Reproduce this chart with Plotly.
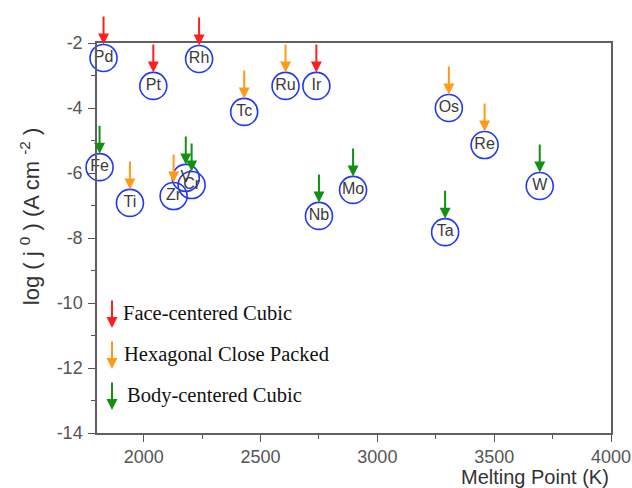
import plotly.graph_objects as go

# Data
elements = ["Pd", "Pt", "Rh", "Ir", "Tc", "Ru", "Os", "Re", "Ti", "Zr",
            "Fe", "V", "Cr", "Nb", "Mo", "Ta", "W"]
melting_point = [1828, 2041, 2237, 2739, 2430, 2607, 3306, 3459, 1941, 2128,
                 1811, 2180, 2205, 2750, 2896, 3290, 3695]
log_j0 = [-2.46, -3.32, -2.49, -3.32, -4.12, -3.32, -4.00, -5.14, -6.92, -6.71,
          -5.82, -6.15, -6.37, -7.32, -6.52, -7.82, -6.40]
structure = ["FCC", "FCC", "FCC", "FCC", "HCP", "HCP", "HCP", "HCP", "HCP", "HCP",
             "BCC", "BCC", "BCC", "BCC", "BCC", "BCC", "BCC"]

structure_names = ["FCC", "HCP", "BCC"]
structure_labels = ["Face-centered Cubic", "Hexagonal Close Packed", "Body-centered Cubic"]
structure_colors = {"FCC": "#ff1f1f", "HCP": "#ff9a1a", "BCC": "#139013"}

x_ticks = [2000, 2500, 3000, 3500, 4000]
y_ticks = [-2, -4, -6, -8, -10, -12, -14]

fig = go.Figure()
fig.add_trace(go.Scatter(
    x=melting_point, y=log_j0, mode="markers+text", text=elements,
    textposition="middle center",
    textfont=dict(family="Liberation Sans, Arial", size=16, color="#3a3a3a"),
    marker=dict(size=27, color="rgba(0,0,0,0)", line=dict(color="#2238f5", width=1.6)),
    cliponaxis=False, showlegend=False, hoverinfo="skip"))

annotations = []
# arrows pointing at each element
for xv, yv, s in zip(melting_point, log_j0, structure):
    annotations.append(dict(
        x=xv, y=yv, xref="x", yref="y", text="", showarrow=True,
        ax=0, ay=-43, standoff=13.5, arrowhead=2, arrowsize=1.1, arrowwidth=2,
        arrowcolor=structure_colors[s]))

# legend
leg_tip = [0.269, 0.164, 0.059]
leg_text_x = [0.0467, 0.0486, 0.0545]
for i, (s, lab) in enumerate(zip(structure_names, structure_labels)):
    annotations.append(dict(
        x=0.0292, y=leg_tip[i], xref="paper", yref="paper", text="", showarrow=True,
        ax=0, ay=-29, standoff=0, arrowhead=2, arrowsize=1.1, arrowwidth=2,
        arrowcolor=structure_colors[s]))
    annotations.append(dict(
        x=leg_text_x[i], y=leg_tip[i] + 0.038, xref="paper", yref="paper", text=lab,
        showarrow=False, xanchor="left", yanchor="middle",
        font=dict(family="Liberation Serif, Times New Roman", size=20.5, color="#111111")))

# axis titles
annotations.append(dict(
    x=1, y=0, xref="paper", yref="paper", text="Melting Point (K)", showarrow=False,
    xanchor="right", yanchor="middle", yshift=-44, xshift=0,
    font=dict(family="Liberation Sans, Arial", size=20, color="#333333")))
annotations.append(dict(
    x=0, y=0.556, xref="paper", yref="paper",
    text="log ( j <sup>0</sup> ) (A cm <sup>-2</sup> )", showarrow=False,
    textangle=-90, xanchor="center", yanchor="middle", xshift=-67,
    font=dict(family="Liberation Sans, Arial", size=22, color="#333333")))

axis_common = dict(
    showgrid=False, zeroline=False, showline=True, linecolor="#606060", linewidth=1.5,
    mirror=True, ticks="outside", ticklen=7, tickwidth=1.3, tickcolor="#555555",
    tickfont=dict(family="Liberation Sans, Arial", size=18, color="#555555"),
    automargin=False,
)

fig.update_layout(
    width=632, height=488, autosize=False,
    margin=dict(l=97, r=21, t=43, b=55, autoexpand=False),
    paper_bgcolor="white", plot_bgcolor="white",
    xaxis=dict(range=[1800, 4000], tickvals=x_ticks, ticktext=[str(v) for v in x_ticks],
               minor=dict(tickvals=[2250, 2750, 3250, 3750], ticklen=4, ticks="outside",
                          tickcolor="#555555", tickwidth=1.2),
               ticklabelstandoff=0, **axis_common),
    yaxis=dict(range=[-14, -2], tickvals=y_ticks, ticktext=[str(v) for v in y_ticks],
               minor=dict(tickvals=[-3, -5, -7, -9, -11, -13], ticklen=4, ticks="outside",
                          tickcolor="#555555", tickwidth=1.2),
               ticklabelstandoff=2, **axis_common),
    annotations=annotations,
)

fig.write_html("out.html", config={"displayModeBar": False, "responsive": False},
               post_script="document.body.style.margin='0';document.body.style.padding='0';")
